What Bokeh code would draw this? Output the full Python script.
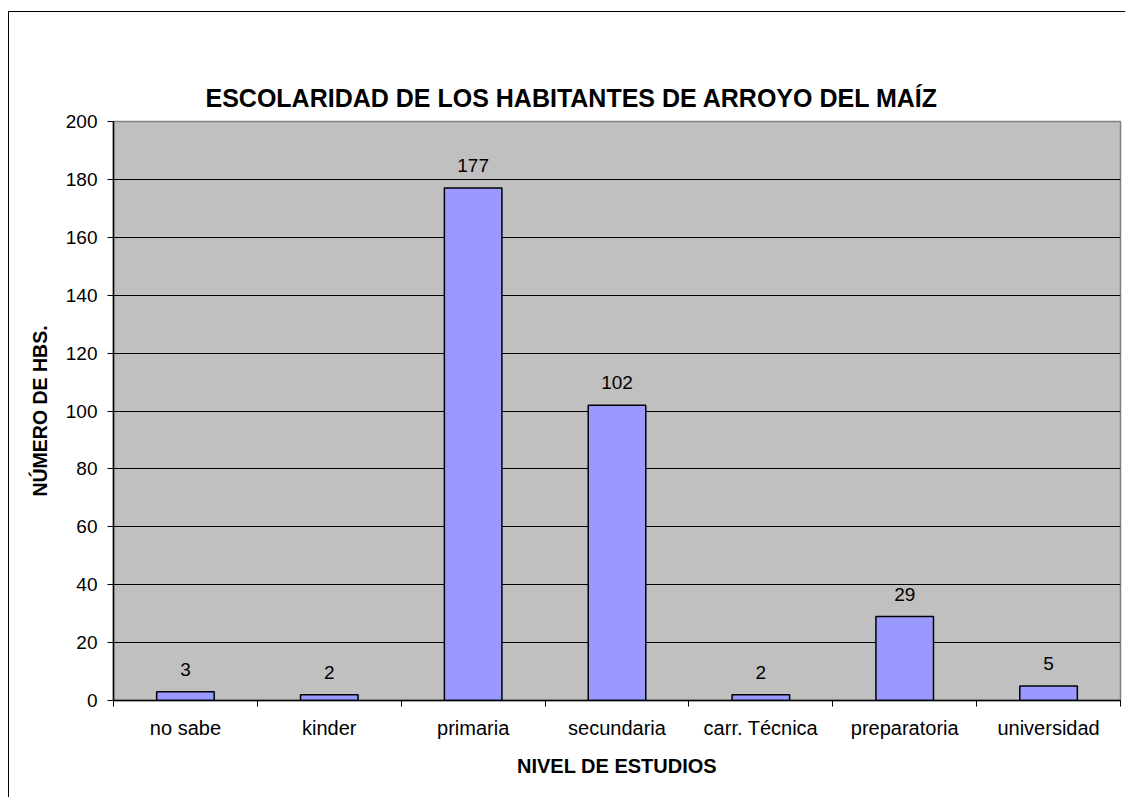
from bokeh.plotting import figure
from bokeh.models import Range1d, FixedTicker, ColumnDataSource, LabelSet, Title, LinearAxis
from bokeh.core.properties import value
from bokeh.embed import file_html
from bokeh.resources import INLINE

categories = ["no sabe", "kinder", "primaria", "secundaria", "carr. Técnica", "preparatoria", "universidad"]
values = [3, 2, 177, 102, 2, 29, 5]
y_ticks = [0, 20, 40, 60, 80, 100, 120, 140, 160, 180, 200]
title_text = "ESCOLARIDAD DE LOS HABITANTES DE ARROYO DEL MAÍZ"
x_title = "NIVEL DE ESTUDIOS"
y_title = "NÚMERO DE HBS."

FONT = "Liberation Sans"
n = len(categories)
positions = list(range(1, n + 1))
src = ColumnDataSource(dict(x=positions, top=values, label=[str(v) for v in values]))

p = figure(width=1117, height=786, output_backend="svg", toolbar_location=None, title=None,
           x_range=Range1d(0.5, n + 0.5), y_range=Range1d(0, y_ticks[-1]),
           min_border_left=104, min_border_top=109, min_border_right=6, min_border_bottom=98)
p.styles = {"border-left": "1px solid black", "border-top": "1px solid black",
            "margin-top": "11px", "margin-left": "8px"}
p.background_fill_color = "#C0C0C0"
p.border_fill_color = "white"
p.outline_line_color = "#808080"
p.outline_line_width = 1.5

p.vbar(x="x", top="top", width=0.4, bottom=0, source=src,
       fill_color="#9999FF", line_color="black", line_width=1.5)

labels = LabelSet(x="x", y="top", text="label", source=src, y_offset=16,
                  text_align="center", text_baseline="alphabetic",
                  text_font=value(FONT), text_font_size="19px", text_color="black")
p.add_layout(labels)

# invisible axis used as a spacer next to the plot area, then the title outside it
spacer = LinearAxis(ticker=FixedTicker(ticks=[]), axis_line_color=None,
                    major_tick_line_color=None, minor_tick_line_color=None,
                    major_tick_out=48, major_tick_in=0, minor_tick_out=0, minor_tick_in=0,
                    major_label_standoff=0)
p.add_layout(spacer, "above")
main_title = Title(text=title_text, align="left", offset=92, standoff=20,
                   text_font=FONT, text_font_size="25px", text_font_style="bold",
                   text_color="black")
p.add_layout(main_title, "above")

# grid
p.xgrid.visible = False
p.ygrid.ticker = FixedTicker(ticks=y_ticks[1:-1])
p.ygrid.grid_line_color = "black"
p.ygrid.grid_line_width = 1

# x axis
xa = p.below[0]
xa.ticker = FixedTicker(ticks=positions, minor_ticks=[k + 0.5 for k in range(n + 1)])
xa.major_label_overrides = {pos: cat for pos, cat in zip(positions, categories)}
xa.major_tick_out = 0
xa.major_tick_in = 0
xa.minor_tick_out = 6
xa.minor_tick_in = 0
xa.minor_tick_line_color = "black"
xa.axis_line_color = "black"
xa.axis_line_width = 1.5
xa.major_label_standoff = 10
xa.major_label_text_font = FONT
xa.major_label_text_font_size = "20px"
xa.major_label_text_color = "black"
xa.axis_label = x_title
xa.axis_label_text_font = FONT
xa.axis_label_text_font_size = "20px"
xa.axis_label_text_font_style = "bold"
xa.axis_label_text_color = "black"
xa.axis_label_standoff = 13

# y axis
ya = p.left[0]
ya.ticker = FixedTicker(ticks=y_ticks)
ya.major_tick_out = 6
ya.major_tick_in = 0
ya.minor_tick_out = 0
ya.minor_tick_in = 0
ya.major_tick_line_color = "black"
ya.axis_line_color = "black"
ya.axis_line_width = 1.5
ya.major_label_standoff = 10
ya.major_label_text_font = FONT
ya.major_label_text_font_size = "19px"
ya.major_label_text_color = "black"
ya.axis_label = y_title
ya.axis_label_text_font = FONT
ya.axis_label_text_font_size = "19.5px"
ya.axis_label_text_font_style = "bold"
ya.axis_label_text_color = "black"
ya.axis_label_standoff = 12

open("out.html", "w").write(file_html(p, INLINE))
